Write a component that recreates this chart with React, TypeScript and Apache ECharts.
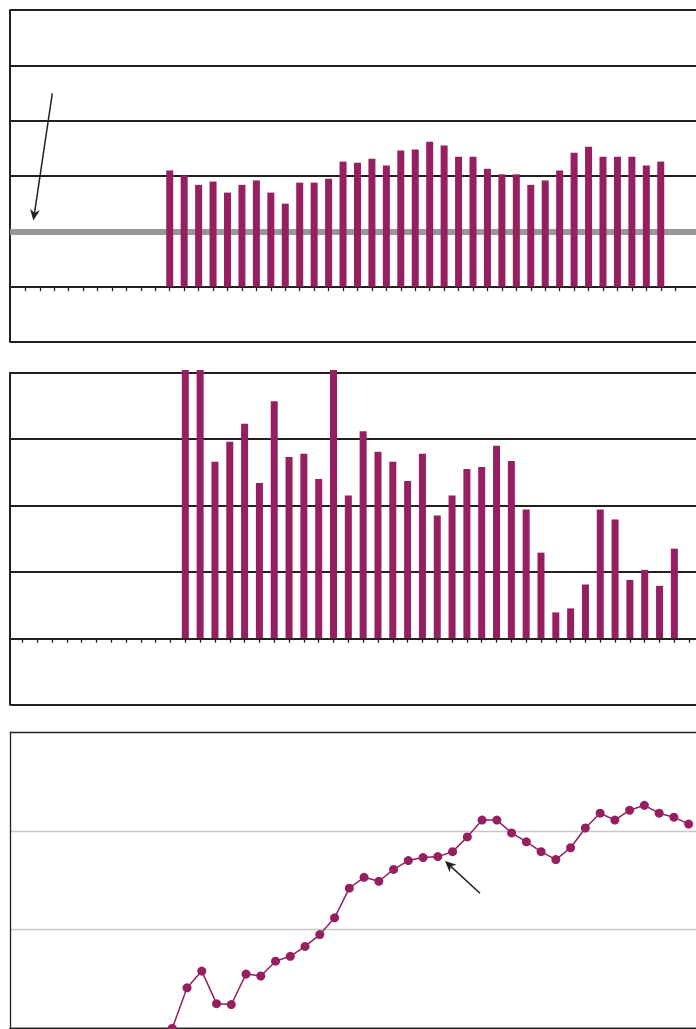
import React, { useEffect, useRef } from "react";
import * as echarts from "echarts";

// ---- Data ----
// Panel 1: bars at period index 11..45 (index 0 = left edge)
const panel1Start = 11;
const panel1Values = [
  2.10, 2.01, 1.84, 1.90, 1.70, 1.84, 1.92, 1.70, 1.50, 1.88, 1.88, 1.95, 2.26,
  2.24, 2.31, 2.19, 2.46, 2.48, 2.62, 2.55, 2.35, 2.35, 2.13, 2.03, 2.03, 1.84,
  1.92, 2.10, 2.42, 2.53, 2.35, 2.35, 2.35, 2.19, 2.26,
];
const panel1Reference = 1;
const panel1Ticks = Array.from({ length: 46 }, (_, i) => i + 1);

// Panel 2: bars at period index 11..44 (index 0 = first tick)
const panel2Start = 11;
const panel2Values = [
  4.04, 4.04, 2.66, 2.96, 3.23, 2.34, 3.57, 2.73, 2.78, 2.40, 4.04, 2.15,
  3.12, 2.81, 2.66, 2.37, 2.78, 1.85, 2.15, 2.55, 2.58, 2.90, 2.67, 1.94,
  1.29, 0.39, 0.45, 0.81, 1.94, 1.79, 0.88, 1.03, 0.79, 1.35,
];
const panel2Ticks = Array.from({ length: 46 }, (_, i) => i);

// Panel 3: line points at period index 10..45
const panel3Start = 10;
const panel3Values = [
  0.0, 0.41, 0.58, 0.25, 0.24, 0.55, 0.53, 0.68, 0.73, 0.83, 0.95, 1.12, 1.42,
  1.53, 1.49, 1.61, 1.70, 1.73, 1.74, 1.79, 1.94, 2.11, 2.11, 1.98, 1.89, 1.79,
  1.71, 1.83, 2.03, 2.18, 2.11, 2.21, 2.26, 2.18, 2.14, 2.07,
];

const MAGENTA = "#951f60";
const DARK = "#231f20";
const GREY = "#97989a";
const LIGHT = "#c8c8c8";

function arrow(sx: number, sy: number, tx: number, ty: number) {
  const dx = tx - sx;
  const dy = ty - sy;
  const len = Math.hypot(dx, dy);
  const ux = dx / len;
  const uy = dy / len;
  const px = -uy;
  const py = ux;
  const L = 11;
  const W = 5;
  const bx = tx - L * ux;
  const by = ty - L * uy;
  const nx = tx - 0.72 * L * ux;
  const ny = ty - 0.72 * L * uy;
  return [
    {
      type: "line",
      shape: { x1: sx, y1: sy, x2: nx, y2: ny },
      style: { stroke: DARK, lineWidth: 1.5 },
      silent: true,
    },
    {
      type: "polygon",
      shape: {
        points: [
          [tx, ty],
          [bx + W * px, by + W * py],
          [nx, ny],
          [bx - W * px, by - W * py],
        ],
      },
      style: { fill: DARK },
      silent: true,
    },
  ];
}

export default function App() {
  const ref = useRef<HTMLDivElement>(null);

  useEffect(() => {
    if (!ref.current) return;
    const chart = echarts.init(ref.current, undefined, { renderer: "svg" });

    const darkY = (min: number, max: number, gridIndex: number) => ({
      type: "value",
      gridIndex,
      min,
      max,
      interval: 1,
      axisLine: { show: true, onZero: false, lineStyle: { color: DARK, width: 2 } },
      axisTick: { show: false },
      axisLabel: { show: false },
      splitLine: { show: true, lineStyle: { color: DARK, width: 2 } },
    });

    const option: any = {
      animation: false,
      grid: [
        { left: 10, top: 10, width: 686, height: 332 },
        { left: 10, top: 372.7, width: 686, height: 332 },
        { left: 10, top: 732.3, width: 686, height: 296 },
      ],
      xAxis: [
        {
          type: "value",
          gridIndex: 0,
          min: -0.06,
          max: 47.44,
          axisLine: { show: true, onZero: true, lineStyle: { color: DARK, width: 2 } },
          axisTick: {
            show: true,
            length: 4.5,
            customValues: panel1Ticks,
            lineStyle: { color: DARK, width: 1.3 },
          },
          axisLabel: { show: false, customValues: panel1Ticks },
          splitLine: { show: false },
        },
        {
          type: "value",
          gridIndex: 1,
          min: -0.83,
          max: 45.46,
          axisLine: { show: true, onZero: true, lineStyle: { color: DARK, width: 2 } },
          axisTick: {
            show: true,
            length: 4.5,
            customValues: panel2Ticks,
            lineStyle: { color: DARK, width: 1.3 },
          },
          axisLabel: { show: false, customValues: panel2Ticks },
          splitLine: { show: false },
        },
        {
          type: "value",
          gridIndex: 2,
          min: -1,
          max: 45.5,
          axisLine: { show: true, onZero: true, lineStyle: { color: DARK, width: 1.3 } },
          axisTick: { show: false },
          axisLabel: { show: false },
          splitLine: { show: false },
        },
      ],
      yAxis: [
        darkY(-1, 5, 0),
        darkY(-1, 4, 1),
        {
          type: "value",
          gridIndex: 2,
          min: 0,
          max: 3,
          interval: 1,
          axisLine: { show: true, onZero: false, lineStyle: { color: DARK, width: 1.3 } },
          axisTick: { show: false },
          axisLabel: { show: false },
          splitLine: {
            show: true,
            lineStyle: { color: [DARK, LIGHT, LIGHT, DARK], width: 1.3 },
          },
        },
      ],
      series: [
        {
          type: "bar",
          xAxisIndex: 0,
          yAxisIndex: 0,
          barWidth: 7,
          z: 3,
          itemStyle: { color: MAGENTA },
          data: panel1Values.map((v, i) => [panel1Start + i, v]),
          markLine: {
            z: 1,
            silent: true,
            symbol: "none",
            label: { show: false },
            lineStyle: { color: GREY, width: 6, type: "solid" },
            data: [{ yAxis: panel1Reference }],
          },
        },
        {
          type: "bar",
          xAxisIndex: 1,
          yAxisIndex: 1,
          barWidth: 7,
          clip: false,
          itemStyle: { color: MAGENTA },
          data: panel2Values.map((v, i) => [panel2Start + i, v]),
        },
        {
          type: "line",
          xAxisIndex: 2,
          yAxisIndex: 2,
          symbol: "circle",
          symbolSize: 9,
          showSymbol: true,
          clip: false,
          lineStyle: { color: MAGENTA, width: 1.5 },
          itemStyle: { color: MAGENTA },
          data: panel3Values.map((v, i) => [panel3Start + i, v]),
        },
      ],
      graphic: [
        ...arrow(52.3, 93.3, 33.4, 220.5),
        ...arrow(480, 893.3, 445, 861),
      ],
    };

    chart.setOption(option);
    return () => chart.dispose();
  }, []);

  return (
    <div
      ref={ref}
      style={{ position: "absolute", left: 0, top: 0, width: 696, height: 1029 }}
    />
  );
}
